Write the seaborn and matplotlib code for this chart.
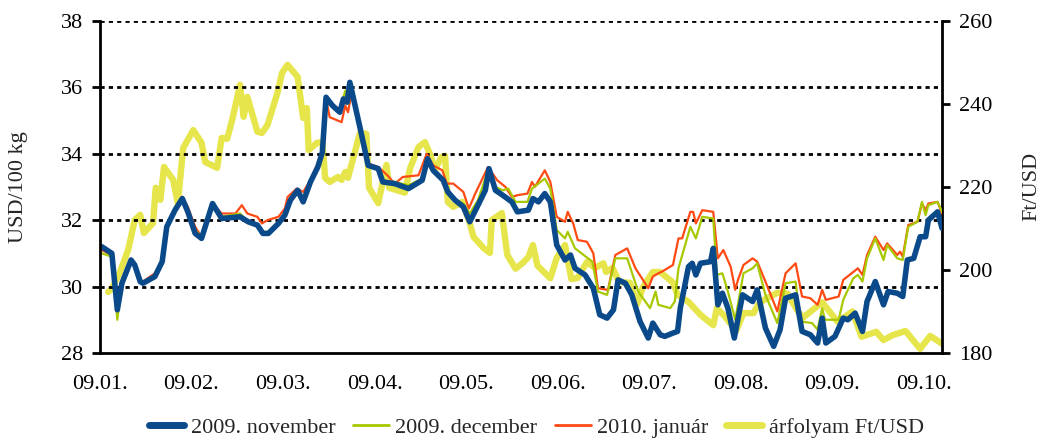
import matplotlib

matplotlib.use("Agg")
import matplotlib.pyplot as plt  # noqa: E402
import pandas as pd  # noqa: E402
import seaborn as sns  # noqa: E402
from matplotlib.lines import Line2D  # noqa: E402

# x positions: months since 2009-01-01 (0 = 09.01.)
month_labels = ["09.01.", "09.02.", "09.03.", "09.04.", "09.05.",
                "09.06.", "09.07.", "09.08.", "09.09.", "09.10."]

nov_t = [0.02, 0.13, 0.19, 0.24, 0.34, 0.38, 0.44, 0.47, 0.60, 0.68, 0.73, 0.82, 0.90, 0.96,
         1.04, 1.11, 1.23, 1.33, 1.53, 1.62, 1.72, 1.78, 1.84, 1.95, 2.02, 2.08, 2.16, 2.22,
         2.30, 2.38, 2.43, 2.47, 2.54, 2.62, 2.66, 2.70, 2.73, 2.84, 2.93, 3.04, 3.09, 3.22,
         3.37, 3.52, 3.58, 3.64, 3.75, 3.80, 3.88, 3.97, 4.04, 4.13, 4.21, 4.25, 4.32, 4.40,
         4.50, 4.56, 4.68, 4.73, 4.79, 4.86, 4.92, 4.99, 5.08, 5.14, 5.19, 5.30, 5.39, 5.46,
         5.54, 5.61, 5.66, 5.74, 5.81, 5.90, 5.99, 6.04, 6.12, 6.17, 6.26, 6.31, 6.34, 6.43,
         6.47, 6.51, 6.56, 6.67, 6.70, 6.75, 6.80, 6.86, 6.93, 7.02, 7.13, 7.18, 7.27, 7.36,
         7.43, 7.49, 7.60, 7.67, 7.76, 7.84, 7.89, 7.93, 8.03, 8.12, 8.17, 8.25, 8.33, 8.38,
         8.47, 8.56, 8.61, 8.71, 8.77, 8.82, 8.89, 8.96, 9.02, 9.05, 9.15, 9.20]
nov = [31.2, 31.0, 29.3, 30.1, 30.8, 30.65, 30.15, 30.1, 30.3, 30.75, 31.8, 32.3, 32.65, 32.25,
       31.6, 31.45, 32.5, 32.05, 32.1, 31.95, 31.85, 31.6, 31.6, 31.9, 32.15, 32.6, 32.9, 32.55,
       33.15, 33.6, 34.05, 35.7, 35.45, 35.25, 35.65, 35.55, 36.15, 34.8, 33.65, 33.55, 33.15, 33.1,
       32.95, 33.2, 33.85, 33.5, 33.2, 32.85, 32.6, 32.4, 31.95, 32.45, 32.9, 33.55, 32.9, 32.75,
       32.55, 32.25, 32.3, 32.65, 32.55, 32.8, 32.55, 31.25, 30.8, 30.95, 30.55, 30.35, 29.95, 29.15,
       29.05, 29.3, 30.2, 30.1, 29.75, 28.95, 28.45, 28.9, 28.55, 28.5, 28.6, 28.65, 29.35, 30.6,
       30.7, 30.35, 30.7, 30.75, 31.15, 29.45, 29.8, 29.35, 28.45, 29.75, 29.55, 29.9, 28.75, 28.2,
       28.7, 29.65, 29.75, 28.65, 28.55, 28.3, 29.05, 28.3, 28.5, 29.05, 29.0, 29.2, 28.65, 29.55,
       30.15, 29.45, 29.85, 29.8, 29.7, 30.8, 30.85, 31.5, 31.5, 32.0, 32.25, 31.75]

dec_t = [0.02, 0.13, 0.19, 0.24, 0.34, 0.38, 0.44, 0.47, 0.60, 0.68, 0.73, 0.82, 0.90, 0.96,
         1.04, 1.11, 1.23, 1.33, 1.53, 1.62, 1.72, 1.78, 1.84, 1.95, 2.02, 2.08, 2.16, 2.22,
         2.30, 2.38, 2.43, 2.47, 2.54, 2.62, 2.68, 2.71, 2.74, 2.84, 2.93, 3.04, 3.09, 3.22,
         3.37, 3.52, 3.58, 3.64, 3.75, 3.80, 3.88, 3.97, 4.04, 4.13, 4.24, 4.32, 4.40, 4.46,
         4.54, 4.67, 4.72, 4.86, 4.92, 4.99, 5.08, 5.11, 5.19, 5.38, 5.44, 5.54, 5.63, 5.76,
         5.88, 6.01, 6.07, 6.10, 6.23, 6.28, 6.32, 6.45, 6.51, 6.58, 6.70, 6.74, 6.80, 6.86,
         6.94, 7.03, 7.13, 7.18, 7.27, 7.40, 7.49, 7.60, 7.65, 7.78, 7.84, 7.89, 7.92, 8.07,
         8.12, 8.23, 8.28, 8.33, 8.38, 8.47, 8.56, 8.60, 8.71, 8.77, 8.83, 8.93, 8.98, 9.02,
         9.05, 9.15, 9.20]
dec = [31.0, 30.9, 29.0, 30.1, 30.8, 30.65, 30.2, 30.1, 30.35, 30.75, 31.8, 32.4, 32.7, 32.3,
       31.7, 31.5, 32.5, 32.1, 32.2, 31.95, 31.85, 31.65, 31.65, 31.95, 32.2, 32.65, 32.9, 32.6,
       33.15, 33.6, 34.05, 35.7, 35.45, 35.3, 35.9, 35.5, 36.0, 34.8, 33.7, 33.55, 33.2, 33.15,
       33.05, 33.25, 33.9, 33.55, 33.25, 32.9, 32.6, 32.5, 32.2, 32.6, 33.5, 33.0, 32.9, 32.95,
       32.55, 32.55, 32.95, 33.25, 32.95, 31.7, 31.45, 31.65, 31.15, 30.75, 29.85, 29.75, 30.85, 30.85,
       29.85, 29.35, 29.85, 29.45, 29.35, 29.55, 30.55, 31.8, 31.45, 32.1, 32.05, 30.35, 30.4, 29.85,
       29.0, 30.4, 30.55, 30.7, 29.75, 28.9, 30.1, 30.15, 28.95, 28.9, 28.7, 29.35, 29.0, 29.0,
       29.6, 30.25, 30.35, 30.15, 30.85, 31.45, 30.8, 31.25, 30.85, 30.8, 31.8, 31.95, 32.55, 32.15,
       32.45, 32.55, 32.25]

jan_t = [0.02, 0.13, 0.19, 0.24, 0.34, 0.38, 0.44, 0.47, 0.60, 0.68, 0.73, 0.82, 0.90, 0.96,
         1.04, 1.11, 1.23, 1.33, 1.48, 1.55, 1.61, 1.72, 1.77, 1.83, 1.95, 2.02, 2.05, 2.15,
         2.22, 2.30, 2.43, 2.47, 2.51, 2.64, 2.68, 2.71, 2.75, 2.84, 2.93, 3.04, 3.14, 3.22,
         3.31, 3.48, 3.57, 3.64, 3.74, 3.79, 3.86, 3.97, 4.03, 4.10, 4.24, 4.34, 4.43, 4.50,
         4.56, 4.67, 4.72, 4.75, 4.86, 4.92, 4.99, 5.08, 5.11, 5.17, 5.22, 5.32, 5.39, 5.44,
         5.55, 5.63, 5.76, 5.85, 5.99, 6.04, 6.10, 6.14, 6.26, 6.32, 6.36, 6.45, 6.48, 6.51,
         6.58, 6.70, 6.75, 6.81, 6.89, 6.94, 6.97, 7.03, 7.13, 7.18, 7.27, 7.40, 7.49, 7.60,
         7.67, 7.76, 7.84, 7.89, 7.93, 8.07, 8.12, 8.28, 8.33, 8.38, 8.47, 8.56, 8.60, 8.71,
         8.74, 8.77, 8.83, 8.93, 8.98, 9.02, 9.05, 9.15, 9.20]
jan = [31.1, 30.95, 29.4, 30.2, 30.8, 30.7, 30.2, 30.15, 30.4, 30.8, 31.8, 32.3, 32.7, 32.4,
       31.8, 31.5, 32.5, 32.2, 32.2, 32.45, 32.2, 32.1, 31.9, 32.0, 32.1, 32.35, 32.7, 32.95,
       32.85, 33.2, 34.05, 35.65, 35.1, 34.95, 35.45, 35.25, 35.85, 34.8, 33.7, 33.6, 33.35, 33.1,
       33.3, 33.35, 34.0, 33.65, 33.5, 33.1, 33.1, 32.85, 32.35, 32.8, 33.6, 33.2, 33.0, 32.7,
       32.75, 32.8, 33.15, 33.0, 33.5, 33.15, 32.1, 31.95, 32.25, 31.9, 31.4, 31.35, 31.0, 29.95,
       29.9, 30.95, 31.15, 30.55, 29.95, 30.3, 30.4, 30.45, 30.65, 31.45, 31.45, 32.25, 32.25, 31.9,
       32.3, 32.25, 30.85, 31.1, 30.6, 29.9, 30.2, 30.65, 30.85, 30.75, 30.15, 29.25, 30.4, 30.7,
       29.7, 29.65, 29.45, 29.9, 29.6, 29.7, 30.2, 30.55, 30.35, 30.95, 31.5, 31.1, 31.3, 30.95,
       31.05, 30.9, 31.85, 31.95, 32.5, 32.3, 32.5, 32.55, 32.2]

huf_t = [0.09, 0.13, 0.22, 0.31, 0.38, 0.44, 0.48, 0.58, 0.61, 0.66, 0.70, 0.80, 0.85, 0.91,
         1.02, 1.11, 1.15, 1.28, 1.33, 1.39, 1.45, 1.53, 1.57, 1.61, 1.72, 1.77, 1.83, 1.94,
         1.99, 2.05, 2.16, 2.22, 2.26, 2.28, 2.37, 2.43, 2.46, 2.51, 2.60, 2.64, 2.68, 2.71,
         2.84, 2.91, 2.94, 3.04, 3.13, 3.16, 3.33, 3.39, 3.48, 3.55, 3.61, 3.66, 3.73, 3.77,
         3.80, 3.86, 3.96, 4.04, 4.08, 4.19, 4.26, 4.28, 4.39, 4.45, 4.54, 4.62, 4.68, 4.73,
         4.78, 4.92, 4.99, 5.08, 5.15, 5.22, 5.32, 5.41, 5.50, 5.53, 5.60, 5.67, 5.79, 5.87,
         5.93, 6.04, 6.12, 6.26, 6.31, 6.43, 6.56, 6.70, 6.74, 6.83, 6.95, 7.03, 7.14, 7.19,
         7.27, 7.40, 7.51, 7.62, 7.68, 7.89, 8.06, 8.22, 8.32, 8.48, 8.56, 8.66, 8.80, 8.96,
         9.07, 9.14, 9.20]
huf = [194.7, 195.5, 199.5, 205.0, 212.0, 213.3, 208.9, 211.3, 219.8, 216.9, 224.8, 221.7, 216.1, 229.4,
       233.7, 230.6, 226.0, 224.6, 231.8, 231.6, 236.6, 244.6, 236.9, 241.7, 233.3, 233.0, 234.9, 242.7,
       247.5, 249.4, 246.5, 236.6, 239.0, 228.9, 230.6, 230.8, 222.2, 221.2, 222.4, 221.7, 223.6, 222.2,
       233.0, 232.8, 219.8, 216.1, 225.3, 219.8, 218.6, 224.6, 229.6, 230.8, 227.7, 224.1, 227.2, 227.5,
       216.4, 215.2, 216.4, 211.3, 208.0, 205.3, 204.1, 212.0, 213.7, 203.6, 200.3, 201.7, 203.1, 206.0,
       201.0, 198.0, 202.9, 206.0, 197.8, 198.1, 201.9, 200.5, 201.6, 199.5, 200.5, 197.1, 196.9, 191.8,
       195.8, 199.5, 199.5, 197.0, 194.0, 192.3, 189.2, 186.7, 190.8, 188.7, 185.3, 189.6, 189.6, 191.6,
       193.0, 194.5, 194.3, 190.2, 188.5, 192.2, 187.5, 190.0, 183.9, 185.1, 183.1, 184.3, 185.3, 181.0,
       184.1, 183.1, 182.2]

BLUE = "#0b4a8a"
GREEN = "#a8c800"
ORANGE = "#ff4a14"
YELLOW = "#e6e64c"

sns.set_style("white")
plt.rcParams["font.family"] = ["Liberation Serif", "DejaVu Serif"]
plt.rcParams["font.size"] = 16

fig = plt.figure(figsize=(10.41, 4.44), dpi=100)
ax = fig.add_axes([0.096, 0.205, 0.809, 0.748])
ax2 = ax.twinx()
ax.set_zorder(ax2.get_zorder() + 1)
ax.patch.set_visible(False)

sns.lineplot(x=huf_t, y=huf, ax=ax2, color=YELLOW, lw=4.6, solid_joinstyle="round")
sns.lineplot(x=jan_t, y=jan, ax=ax, color=ORANGE, lw=1.6)
sns.lineplot(x=dec_t, y=dec, ax=ax, color=GREEN, lw=1.6)
sns.lineplot(x=nov_t, y=nov, ax=ax, color=BLUE, lw=4.0, solid_joinstyle="round")

ax.set_xlim(0, 9.2)
ax.set_ylim(28, 38)
ax2.set_ylim(180, 260)
ax.set_xticks(range(len(month_labels)))
ax.set_xticklabels(month_labels)
ax.set_yticks(range(28, 39, 2))
ax2.set_yticks(range(180, 261, 20))

for y in range(30, 39, 2):
    ax.axhline(y, color="black", lw=2, ls=(0, (1.5, 1.5)), zorder=0)

for a in (ax, ax2):
    for s in a.spines.values():
        s.set_visible(False)
ax.spines["left"].set_visible(True)
ax.spines["bottom"].set_visible(True)
ax2.spines["right"].set_visible(True)
for s in (ax.spines["left"], ax.spines["bottom"], ax2.spines["right"]):
    s.set_color("black")
    s.set_linewidth(2)

ax.tick_params(axis="both", direction="out", length=6, width=2, colors="black", pad=6)
ax.tick_params(axis="x", pad=10)
ax2.tick_params(axis="y", direction="out", length=6, width=2, colors="black", pad=6)
ax.set_xlabel("")
ax.set_ylabel("USD/100 kg", labelpad=24)
ax2.set_ylabel("Ft/USD", labelpad=22)

handles = [
    Line2D([], [], color=BLUE, lw=5),
    Line2D([], [], color=GREEN, lw=2),
    Line2D([], [], color=ORANGE, lw=2),
    Line2D([], [], color=YELLOW, lw=5),
]
labels = ["2009. november", "2009. december", "2010. január", "árfolyam Ft/USD"]
fig.legend(handles, labels, loc="lower center", bbox_to_anchor=(0.515, -0.032), ncol=4,
           frameon=False, handlelength=1.6, handletextpad=0.3, columnspacing=0.8)

fig.savefig("out.png", dpi=100)
